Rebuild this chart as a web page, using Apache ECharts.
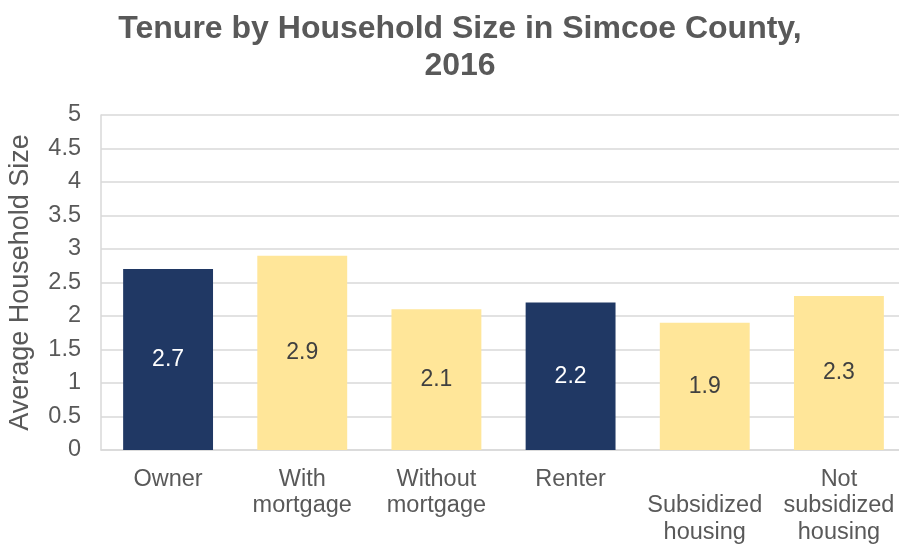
<!DOCTYPE html>
<html>
<head>
<meta charset="utf-8">
<script src="https://cdn.jsdelivr.net/npm/echarts@6/dist/echarts.min.js"></script>
<style>
html,body{margin:0;padding:0;background:#fff;}
#chart{width:899px;height:544px;}
</style>
</head>
<body>
<div id="chart"></div>
<script>
var categories = ["Owner", "With mortgage", "Without mortgage", "Renter", "Subsidized housing", "Not subsidized housing"];
var tickLabels = ["Owner", "With\nmortgage", "Without\nmortgage", "Renter", "\nSubsidized\nhousing", "Not\nsubsidized\nhousing"];
var values = [2.7, 2.9, 2.1, 2.2, 1.9, 2.3];
var isMain = [true, false, false, true, false, false];
var yTicks = [0, 0.5, 1, 1.5, 2, 2.5, 3, 3.5, 4, 4.5, 5];

var NAVY = '#203864', YELLOW = '#FFE699', TXT = '#595959';
var font = '"Liberation Sans", Arial, sans-serif';

var chart = echarts.init(document.getElementById('chart'));
chart.setOption({
  animation: false,
  textStyle: { fontFamily: font },
  title: {
    text: 'Tenure by Household Size in Simcoe County,\n2016',
    left: 455, top: 6, textAlign: 'center',
    textStyle: { fontFamily: font, fontSize: 32, fontWeight: 'bold', color: TXT, lineHeight: 37 }
  },
  grid: { left: 101, right: -7, top: 115, bottom: 94, containLabel: false, outerBoundsMode: 'none' },
  xAxis: {
    type: 'category',
    data: categories,
    axisLine: { show: true, lineStyle: { color: '#d9d9d9', width: 1.5 } },
    axisTick: { show: false },
    axisLabel: {
      interval: 0, margin: 16, color: TXT, fontSize: 23.5, lineHeight: 26.5, fontFamily: font,
      verticalAlign: 'top',
      formatter: function (v, i) { return tickLabels[i]; }
    }
  },
  yAxis: {
    type: 'value', min: yTicks[0], max: yTicks[yTicks.length - 1], interval: 0.5,
    name: 'Average Household Size', nameLocation: 'middle', nameGap: 67,
    nameTextStyle: { color: TXT, fontSize: 27, fontFamily: font },
    axisLine: { show: true, lineStyle: { color: '#d9d9d9', width: 1.5 } },
    axisTick: { show: false },
    splitLine: { show: true, lineStyle: { color: '#d9d9d9', width: 1.5 } },
    axisLabel: { margin: 20, color: TXT, fontSize: 23.5, fontFamily: font }
  },
  series: [{
    type: 'bar',
    barCategoryGap: '33%',
    data: values.map(function (v, i) {
      return {
        value: v,
        itemStyle: { color: isMain[i] ? NAVY : YELLOW },
        label: { color: isMain[i] ? '#ffffff' : '#404040' }
      };
    }),
    label: { show: true, position: 'inside', fontSize: 23, fontFamily: font }
  }]
});
</script>
</body>
</html>
